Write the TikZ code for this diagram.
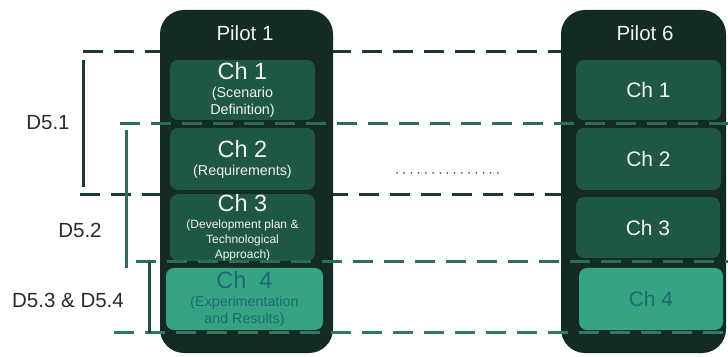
\documentclass[tikz,border=0pt]{standalone}
\usepackage{fontspec}
\setmainfont{Liberation Sans}
\definecolor{pilotbg}{HTML}{132B24}
\definecolor{chbg}{HTML}{1F5747}
\definecolor{chfour}{HTML}{36A384}
\definecolor{chfourtext}{HTML}{1D6A6C}
\definecolor{chtext}{HTML}{F2F2F2}
\definecolor{darkrule}{HTML}{1B3A31}
\definecolor{greenrule}{HTML}{2C6D5A}
\definecolor{greenrulelight}{HTML}{2F7A64}
\definecolor{labeltext}{HTML}{2B2B2B}
\begin{document}
\begin{tikzpicture}[x=1pt,y=1pt,
  pilotcol/.style={rectangle, fill=pilotbg, rounded corners=24pt, inner sep=0pt},
  pilottitle/.style={text=chtext, font=\fontsize{20.5}{22}\selectfont, inner sep=0pt},
  chbox/.style={rectangle, fill=chbg, rounded corners=8pt, inner sep=0pt,
    text=chtext, align=center, font=\fontsize{14.3}{17}\selectfont},
  chboxlast/.style={chbox, fill=chfour, text=chfourtext},
  shortbox/.style={font=\fontsize{21}{22}\selectfont},
  darkdash/.style={draw=darkrule, line width=3pt, dash pattern=on 20pt off 11pt},
  greendash/.style={draw=greenrule, line width=3pt, dash pattern=on 20pt off 11pt},
  bracket/.style={line width=3pt},
  dlabel/.style={text=labeltext, font=\fontsize{20.5}{22}\selectfont, inner sep=0pt},
]
\useasboundingbox (0,0) rectangle (728,356);

% dark rules run behind the pilot columns
\coordinate (r1a) at (83,304);  \coordinate (r1b) at (728,304);
\coordinate (r3a) at (80,161);  \coordinate (r3b) at (728,161);
\draw[darkdash] (r1a) -- (r1b);
\draw[darkdash] (r3a) -- (r3b);

% pilot columns
\node[pilotcol, minimum width=173pt, minimum height=343pt] (pilotA) at (246.5,174.5) {};
\node[pilotcol, minimum width=165pt, minimum height=343pt] (pilotB) at (643.5,174.5) {};
\node[pilottitle] (pilotAtitle) at (245,323) {Pilot 1};
\node[pilottitle] (pilotBtitle) at (645,323) {Pilot 6};

% chapters of pilot 1
\node[chbox, minimum width=145pt, minimum height=60pt] (a1) at (242.5,266)
  {{\fontsize{23.5}{22}\selectfont Ch 1}\\[1pt](Scenario\\Definition)};
\node[chbox, minimum width=145pt, minimum height=62pt] (a2) at (242.5,197)
  {{\fontsize{23.5}{22}\selectfont Ch 2}\\[1pt](Requirements)};
\node[chbox, minimum width=145pt, minimum height=61pt, font=\fontsize{12}{15}\selectfont] (a3) at (242.5,128.5)
  {{\fontsize{23.5}{22}\selectfont Ch 3}\\[2pt](Development plan \&\\Technological\\Approach)};
\node[chboxlast, minimum width=157pt, minimum height=62pt] (a4) at (244.5,57)
  {{\fontsize{23.5}{22}\selectfont Ch\ \ 4}\\[1pt](Experimentation\\and Results)};

% chapters of pilot 6
\node[chbox, shortbox, minimum width=145pt, minimum height=60pt] (b1) at (648.5,266) {Ch 1};
\node[chbox, shortbox, minimum width=145pt, minimum height=62pt] (b2) at (648.5,197) {Ch 2};
\node[chbox, shortbox, minimum width=144pt, minimum height=61pt] (b3) at (648,128.5) {Ch 3};
\node[chboxlast, shortbox, minimum width=144pt, minimum height=62pt] (b4) at (651,57) {Ch 4};

% green rules cross over the columns
\coordinate (r2a) at (120,232); \coordinate (r2b) at (728,232);
\coordinate (r4a) at (136,94);  \coordinate (r4b) at (728,94);
\coordinate (r5a) at (114,23);  \coordinate (r5b) at (728,23);
\draw[greendash] (r2a) -- (r2b);
\draw[greendash] (r4a) -- (r4b);
\draw[greendash, draw=greenrulelight] (r5a) -- (r5b);

% deliverable brackets
\coordinate (d1t) at (83,296);  \coordinate (d1b) at (83,169);
\coordinate (d2t) at (126,226); \coordinate (d2b) at (126,88);
\coordinate (d3t) at (149,94);  \coordinate (d3b) at (149,23);
\draw[bracket, draw=darkrule] (d1t) -- (d1b);
\draw[bracket, draw=greenrule] (d2t) -- (d2b);
\draw[bracket, draw=darkrule!60!greenrule] (d3t) -- (d3b);

\node[dlabel] (lab1) at (48,233) {D5.1};
\node[dlabel] (lab2) at (80,126) {D5.2};
\node[dlabel] (lab3) at (68,56) {D5.3 \& D5.4};

% ellipsis between the pilots
\coordinate (gapa) at (397,183); \coordinate (gapb) at (498,183);
\draw[draw=black!65, line width=2pt, line cap=round, dash pattern=on 0pt off 7.21pt] (gapa) -- (gapb);
\end{tikzpicture}
\end{document}
